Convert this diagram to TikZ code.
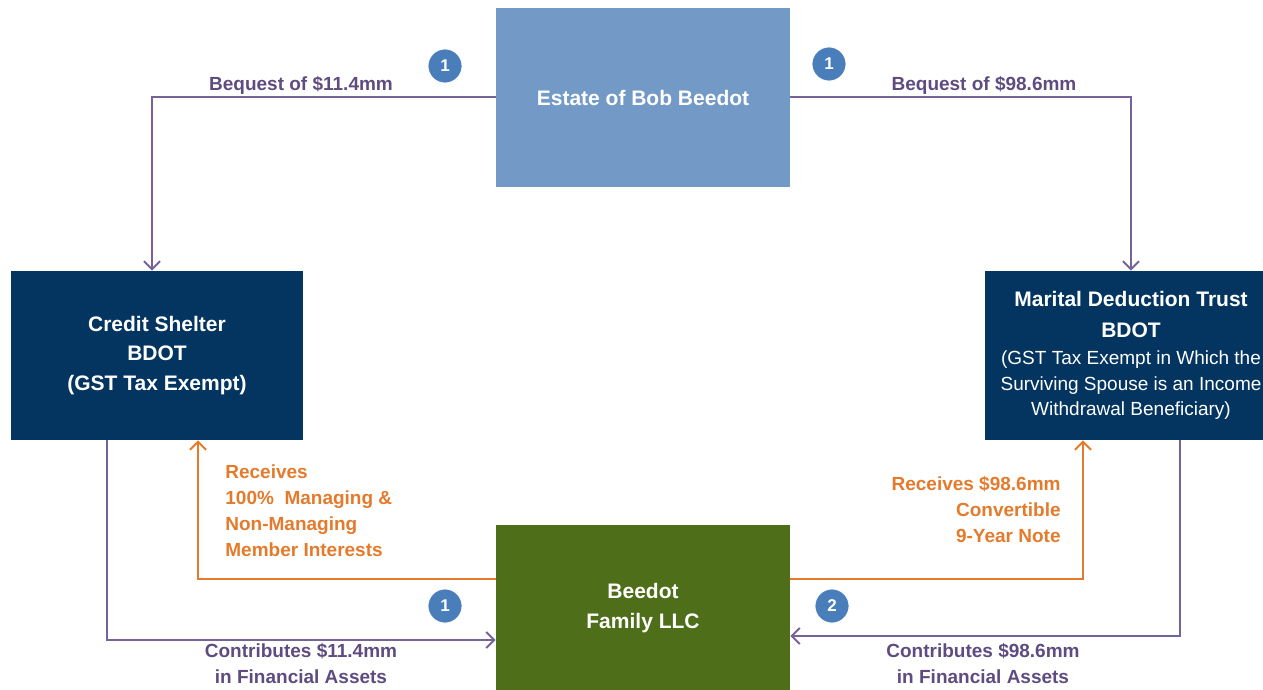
\documentclass[tikz,border=0pt]{standalone}
\usepackage{fontspec}
\setmainfont{Liberation Sans}
\usepackage{tikz}
\usepackage{xcolor}
\usetikzlibrary{arrows.meta}
\definecolor{estate-blue}{HTML}{7399C6}
\definecolor{trust-navy}{HTML}{033560}
\definecolor{llc-green}{HTML}{4E6E1A}
\definecolor{flow-purple}{HTML}{76639A}
\definecolor{label-purple}{HTML}{5E4C80}
\definecolor{flow-orange}{HTML}{E47B2C}
\definecolor{badge-blue}{HTML}{4A7EBB}
\tikzset{
    entity-box/.style = {rectangle, draw=none, text=white, align=center, inner sep=0pt},
    box-font/.style = {font=\fontsize{10.5}{14.75}\selectfont\bfseries},
    step-badge/.style = {circle, fill=badge-blue, draw=white, thin, text=white, minimum size=17pt, inner sep=0pt, font=\fontsize{8.5}{10}\selectfont\bfseries},
    flow-label/.style = {text=label-purple, inner sep=0pt, align=center, font=\fontsize{9.5}{13}\selectfont\bfseries},
    note-label/.style = {text=flow-orange, inner sep=0pt, font=\fontsize{9.5}{13}\selectfont\bfseries},
    flow-line/.style = {draw=flow-purple, line width=1pt, -{Straight Barb[length=4pt,width=8pt]}},
    note-line/.style = {draw=flow-orange, line width=1pt, -{Straight Barb[length=4pt,width=8pt]}},
}

\begin{document}
\begin{tikzpicture}[x=0.5pt,y=-0.5pt]
\useasboundingbox (0,0) rectangle (1263,690);

\node [entity-box, box-font, fill=estate-blue, minimum width=147pt, minimum height=89.5pt] (estate) at (643,97.5) {Estate of Bob Beedot};
\node [entity-box, box-font, fill=trust-navy, minimum width=146pt, minimum height=84.5pt] (shelter) at (157,355.5) {Credit Shelter\\BDOT\\(GST Tax Exempt)};
\node [entity-box, fill=trust-navy, minimum width=146pt, minimum height=84.5pt, font=\fontsize{9.5}{12.75}\selectfont] (marital) at (1131,355.5)
    {{\fontsize{10.5}{15}\selectfont\bfseries Marital Deduction Trust}\\[2.5pt]
     {\fontsize{10.5}{15}\selectfont\bfseries BDOT}\\[1pt]
     (GST Tax Exempt in Which the\\
     Surviving Spouse is an Income\\
     Withdrawal Beneficiary)};
\node [entity-box, box-font, fill=llc-green, minimum width=147pt, minimum height=83pt] (llc) at (643,608) {Beedot\\Family LLC};

\draw [flow-line] (estate.west) -| ([xshift=-2.5pt]shelter.north);
\draw [flow-line] (estate.east) -| (marital.north);
\draw [flow-line] ([xshift=-25pt]shelter.south) |- ([yshift=-16pt]llc.west);
\draw [flow-line] ([xshift=24.5pt]marital.south) |- ([yshift=-14pt]llc.east);
\draw [note-line] ([yshift=14.5pt]llc.west) -| ([xshift=20.5pt]shelter.south);
\draw [note-line] ([yshift=14.5pt]llc.east) -| ([xshift=-24pt]marital.south);

\node [flow-label] (bequest-a) at (301,85) {Bequest of \$11.4mm};
\node [flow-label] (bequest-b) at (984,85) {Bequest of \$98.6mm};
\node [flow-label] (contrib-a) at (301,664) {Contributes \$11.4mm\\in Financial Assets};
\node [flow-label] (contrib-b) at (983,664) {Contributes \$98.6mm\\in Financial Assets};
\node [note-label, anchor=west, align=left] (receives-a) at (225,511) {Receives\\100\%\ \ Managing \&\\Non-Managing\\Member Interests};
\node [note-label, anchor=east, align=right] (receives-b) at (1061,510) {Receives \$98.6mm\\Convertible\\9-Year Note};

\node [step-badge] (badge-a) at (445,66) {1};
\node [step-badge] (badge-b) at (829,64) {1};
\node [step-badge] (badge-c) at (445,606) {1};
\node [step-badge] (badge-d) at (832,606) {2};
\end{tikzpicture}
\end{document}
